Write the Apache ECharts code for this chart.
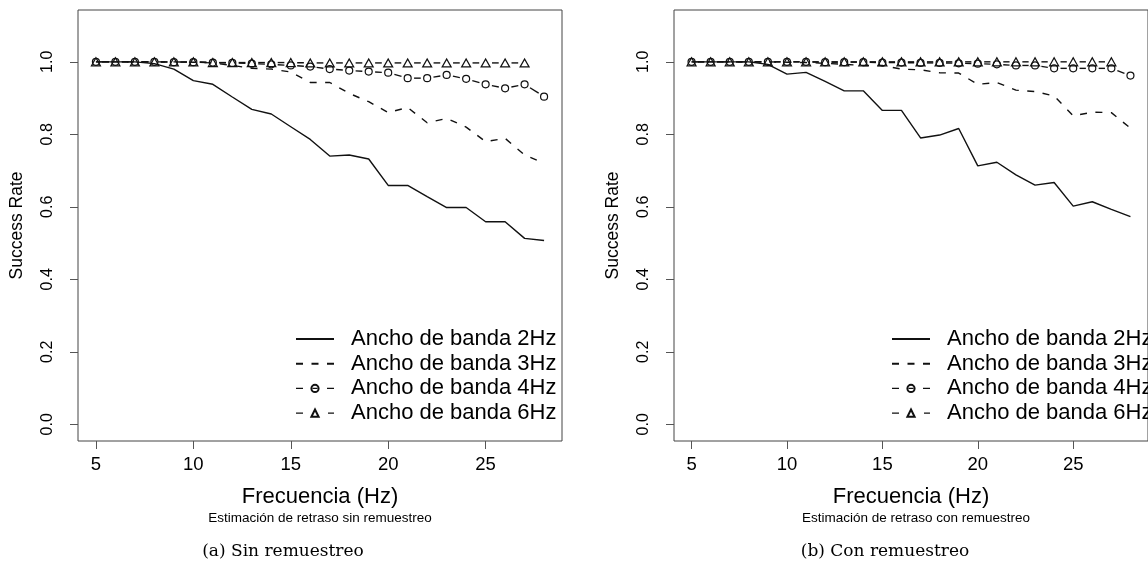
<!DOCTYPE html>
<html>
<head>
<meta charset="utf-8">
<script src="https://cdn.jsdelivr.net/npm/echarts@6/dist/echarts.min.js"></script>
<style>
  html, body { margin: 0; padding: 0; background: #fff; }
  #chart { width: 1148px; height: 573px; }
</style>
</head>
<body>
<div id="chart"></div>
<script>
// Frequencies tested (Hz) and axis ticks
const freqs = [5, 6, 7, 8, 9, 10, 11, 12, 13, 14, 15, 16, 17, 18, 19, 20, 21, 22, 23, 24, 25, 26, 27, 28];
const freqsBw6 = [5, 6, 7, 8, 9, 10, 11, 12, 13, 14, 15, 16, 17, 18, 19, 20, 21, 22, 23, 24, 25, 26, 27];
const freqTicks = [5, 10, 15, 20, 25];
const rateTicks = [0, 0.2, 0.4, 0.6, 0.8, 1.0];

const seriesNames = ['Ancho de banda 2Hz', 'Ancho de banda 3Hz', 'Ancho de banda 4Hz', 'Ancho de banda 6Hz'];

// Success rate, delay estimation without resampling
const sinBw2 = [1.0, 1.0, 1.0, 0.995, 0.98, 0.948, 0.938, 0.903, 0.869, 0.856, 0.821, 0.786, 0.740, 0.743, 0.732, 0.659, 0.659, 0.628, 0.598, 0.598, 0.559, 0.559, 0.513, 0.507];
const sinBw3 = [1.0, 1.0, 1.0, 1.0, 1.0, 0.999, 0.997, 0.99, 0.982, 0.98, 0.972, 0.943, 0.943, 0.913, 0.89, 0.86, 0.874, 0.832, 0.844, 0.82, 0.78, 0.789, 0.743, 0.72];
const sinBw4 = [1.0, 1.0, 1.0, 1.0, 0.999, 0.999, 0.998, 0.997, 0.995, 0.993, 0.99, 0.987, 0.98, 0.976, 0.973, 0.97, 0.955, 0.955, 0.964, 0.953, 0.938, 0.927, 0.938, 0.904];
const sinBw6 = [1.0, 1.0, 1.0, 1.0, 1.0, 1.0, 0.998, 0.998, 0.998, 0.998, 0.998, 0.997, 0.997, 0.997, 0.997, 0.997, 0.997, 0.997, 0.997, 0.997, 0.997, 0.997, 0.997];

// Success rate, delay estimation with resampling
const conBw2 = [1.0, 1.0, 1.0, 1.0, 0.993, 0.966, 0.971, 0.946, 0.92, 0.92, 0.866, 0.866, 0.79, 0.798, 0.816, 0.713, 0.723, 0.688, 0.66, 0.667, 0.602, 0.614, 0.593, 0.573];
const conBw3 = [1.0, 1.0, 1.0, 1.0, 1.0, 0.999, 0.998, 0.996, 0.993, 0.99, 0.99, 0.98, 0.978, 0.97, 0.969, 0.938, 0.943, 0.922, 0.918, 0.906, 0.851, 0.861, 0.86, 0.817];
const conBw4 = [1.0, 1.0, 1.0, 1.0, 1.0, 1.0, 1.0, 0.999, 0.999, 0.999, 0.998, 0.998, 0.997, 0.997, 0.996, 0.995, 0.993, 0.99, 0.99, 0.982, 0.982, 0.982, 0.982, 0.962];
const conBw6 = [1.0, 1.0, 1.0, 1.0, 1.0, 1.0, 1.0, 1.0, 1.0, 1.0, 1.0, 1.0, 1.0, 1.0, 1.0, 1.0, 1.0, 1.0, 1.0, 1.0, 1.0, 1.0, 1.0];

const xTitle = 'Frecuencia (Hz)';
const yTitle = 'Success Rate';
const panelSubtitles = ['Estimación de retraso sin remuestreo', 'Estimación de retraso con remuestreo'];
const panelCaptions = ['(a) Sin remuestreo', '(b) Con remuestreo'];

const INK = '#111';
const LW = 1.4;
const SANS = 'Liberation Sans, Arial, sans-serif';
const SERIF = 'DejaVu Serif, Liberation Serif, serif';
const GAP = 6.4; // gap left around each point on "both" style lines

const zip = (xs, ys) => xs.map((x, i) => [x, ys[i]]);
const pairs = (xs, ys) => xs.slice(0, -1).map((x, i) => [x, ys[i], xs[i + 1], ys[i + 1]]);

// segments between consecutive points, trimmed so they stop short of the markers
function renderGapped(params, api) {
  const p = api.coord([api.value(0), api.value(1)]);
  const q = api.coord([api.value(2), api.value(3)]);
  const dx = q[0] - p[0], dy = q[1] - p[1];
  const len = Math.hypot(dx, dy);
  if (len <= 2 * GAP) return null;
  const ux = dx / len, uy = dy / len;
  return {
    type: 'line',
    shape: { x1: p[0] + ux * GAP, y1: p[1] + uy * GAP, x2: q[0] - ux * GAP, y2: q[1] - uy * GAP },
    style: { stroke: INK, lineWidth: LW }
  };
}

const panels = [
  { left: 78, legendLeft: 295, sub: panelSubtitles[0], caption: panelCaptions[0], captionX: 283,
    bw2: sinBw2, bw3: sinBw3, bw4: sinBw4, bw6: sinBw6 },
  { left: 674, legendLeft: 891, sub: panelSubtitles[1], caption: panelCaptions[1], captionX: 885,
    bw2: conBw2, bw3: conBw3, bw4: conBw4, bw6: conBw6 }
];

const PLOT_W = 484, PLOT_TOP = 10, PLOT_H = 431;

const grids = [], xAxes = [], yAxes = [], series = [], legends = [], graphics = [];

panels.forEach((pn, k) => {
  grids.push({ left: pn.left, top: PLOT_TOP, width: PLOT_W, height: PLOT_H,
    show: true, borderColor: '#444', borderWidth: 1, backgroundColor: 'transparent' });

  xAxes.push({
    type: 'value', gridIndex: k, min: 4.08, max: 28.92,
    splitLine: { show: false },
    axisLine: { show: false, onZero: false },
    axisTick: { show: true, inside: false, length: 8, customValues: freqTicks, lineStyle: { color: '#555', width: 1 } },
    axisLabel: { customValues: freqTicks, margin: 14, fontSize: 18.5, color: '#000', fontFamily: SANS },
    name: xTitle, nameLocation: 'middle', nameGap: 45,
    nameTextStyle: { fontSize: 22, color: '#000', fontFamily: SANS }
  });

  yAxes.push({
    type: 'value', gridIndex: k, min: -0.046, max: 1.143,
    splitLine: { show: false },
    axisLine: { show: false, onZero: false },
    axisTick: { show: true, inside: false, length: 8, customValues: rateTicks, lineStyle: { color: '#555', width: 1 } },
    axisLabel: { customValues: rateTicks, rotate: 90, margin: 22, fontSize: 16, color: '#000', fontFamily: SANS,
      formatter: v => v.toFixed(1) },
    name: yTitle, nameLocation: 'middle', nameGap: 52, nameRotate: 90,
    nameTextStyle: { fontSize: 17.5, color: '#000', fontFamily: SANS }
  });

  const base = { type: 'line', xAxisIndex: k, yAxisIndex: k, animation: false, silent: true };

  series.push(Object.assign({}, base, {
    name: seriesNames[0], data: zip(freqs, pn.bw2), symbol: 'none',
    lineStyle: { color: INK, width: LW, type: 'solid' }, itemStyle: { color: INK }, z: 2
  }));
  series.push(Object.assign({}, base, {
    name: seriesNames[1], data: zip(freqs, pn.bw3), symbol: 'none',
    lineStyle: { color: INK, width: LW, type: [7, 8.5] }, itemStyle: { color: INK }, z: 3
  }));
  series.push(Object.assign({}, base, {
    name: seriesNames[2], data: zip(freqs, pn.bw4), symbol: 'circle', symbolSize: 7,
    lineStyle: { opacity: 0 },
    itemStyle: { color: 'rgba(0,0,0,0)', borderColor: INK, borderWidth: 1.2 }, z: 4
  }));
  series.push({
    type: 'custom', name: 'tramos 4Hz', xAxisIndex: k, yAxisIndex: k, silent: true, animation: false,
    data: pairs(freqs, pn.bw4), encode: { x: [0, 2], y: [1, 3] }, renderItem: renderGapped, z: 4
  });
  series.push(Object.assign({}, base, {
    name: seriesNames[3], data: zip(freqsBw6, pn.bw6), symbol: 'triangle', symbolSize: [9, 8],
    lineStyle: { opacity: 0 },
    itemStyle: { color: 'rgba(0,0,0,0)', borderColor: INK, borderWidth: 1.2 }, z: 5
  }));
  series.push({
    type: 'custom', name: 'tramos 6Hz', xAxisIndex: k, yAxisIndex: k, silent: true, animation: false,
    data: pairs(freqsBw6, pn.bw6), encode: { x: [0, 2], y: [1, 3] }, renderItem: renderGapped, z: 5
  });

  // legend keys: short dashes either side of the marker
  const circleKeyLine = { opacity: 1, color: INK, width: LW, type: [7, 9.5, 5, 9.5, 7, 10] };
  const triangleKeyLine = { opacity: 1, color: INK, width: LW, type: [7, 25] };
  const noMarker = { opacity: 0 };
  legends.push({
    orient: 'vertical', left: pn.legendLeft, top: 328, padding: 0,
    itemWidth: 38, itemHeight: 9, itemGap: 2.7, selectedMode: false,
    textStyle: { fontSize: 22, color: '#000', fontFamily: SANS, padding: [0, 0, 0, 12] },
    data: [
      { name: seriesNames[0], itemStyle: noMarker },
      { name: seriesNames[1], itemStyle: noMarker },
      { name: seriesNames[2], lineStyle: circleKeyLine },
      { name: seriesNames[3], lineStyle: triangleKeyLine }
    ]
  });

  graphics.push({
    type: 'text', x: pn.left + PLOT_W / 2, y: 518,
    style: { text: pn.sub, fontSize: 13.5, fill: '#000', fontFamily: SANS, textAlign: 'center', textVerticalAlign: 'middle' }
  });
  graphics.push({
    type: 'text', x: pn.captionX, y: 552,
    style: { text: pn.caption, fontSize: 17, fill: '#000', fontFamily: SERIF, textAlign: 'center', textVerticalAlign: 'middle' }
  });
});

const chart = echarts.init(document.getElementById('chart'), null, { renderer: 'canvas' });
chart.setOption({
  backgroundColor: '#fff',
  animation: false,
  grid: grids,
  xAxis: xAxes,
  yAxis: yAxes,
  legend: legends,
  series: series,
  graphic: graphics
});
</script>
</body>
</html>
